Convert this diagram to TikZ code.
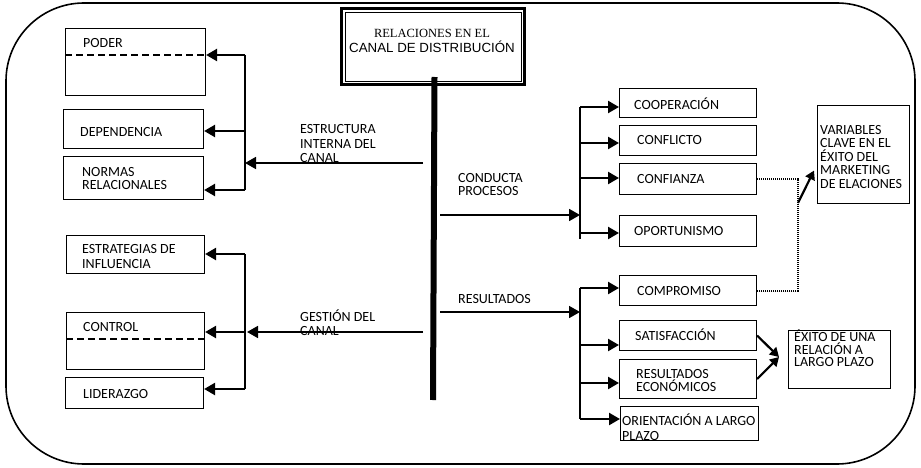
\documentclass[tikz,border=0pt]{standalone}
\usepackage{fontspec}
\setmainfont{Carlito}
\newfontfamily\timesf{Liberation Serif}
\newfontfamily\arialf{Liberation Sans}
\usetikzlibrary{arrows.meta,calc}
\tikzset{
  box/.style={draw, line width=1.1pt, inner sep=0pt, anchor=north west},
  txt/.style={inner sep=0pt, align=left, anchor=west, font=\fontsize{14}{13.5}\selectfont},
  br/.style={line width=2.4pt, -{Triangle[length=11pt,width=12pt]}},
  mainarr/.style={line width=1.8pt, -{Triangle[length=11pt,width=12pt]}},
  vline/.style={line width=1.6pt},
  diag/.style={line width=2.2pt, -{Triangle[length=9pt,width=10pt]}},
  dashline/.style={line width=1.8pt, dash pattern=on 7pt off 4pt},
  dotline/.style={line width=2pt, dash pattern=on 1pt off 1pt},
}
\begin{document}
\begin{tikzpicture}[x=1pt,y=-1pt]
\useasboundingbox (0,0) rectangle (921,468);
% outer frame
\draw[line width=1.6pt, rounded corners=78pt] (6,3) rectangle (915,464);

% title
\node[box, line width=3pt, minimum width=183pt, minimum height=76pt] (title) at (340,7) {};
\draw[line width=0.8pt] ($(title.south west)+(5,-5)$) rectangle ($(title.north east)+(-5,5)$);
\node[inner sep=0pt, align=center, font=\fontsize{13}{15}\selectfont] (titletext) at (432,40.5)
  {{\timesf\fontsize{12.5}{15}\selectfont RELACIONES EN EL}\\{\arialf\fontsize{13.3}{15}\selectfont CANAL DE DISTRIBUCIÓN}};
\coordinate (barend) at (433,400);
\draw[line width=6pt] ($(title.south)+(1.5,-9)$) -- (barend);

% left boxes
\node[box, minimum width=140pt, minimum height=67pt] (poder) at (65,28) {};
\node[box, minimum width=140pt, minimum height=39pt] (dep) at (63,109) {};
\node[box, minimum width=140pt, minimum height=43pt] (normas) at (63,156) {};
\node[box, minimum width=138pt, minimum height=38pt] (estr) at (66,235) {};
\node[box, minimum width=138pt, minimum height=57pt] (control) at (66,312) {};
\node[box, minimum width=138pt, minimum height=31pt] (lider) at (65,377) {};
\draw[dashline] (65,55) -- (205,55);
\draw[dashline] (66,339) -- (204,339);

\node[txt] (tpoder) at (83,43) {PODER};
\node[txt] (tdep) at (80,132) {DEPENDENCIA};
\node[txt, font=\fontsize{14}{12.8}\selectfont] (tnormas) at (82,178.5) {NORMAS\\RELACIONALES};
\node[txt, font=\fontsize{14}{14.5}\selectfont] (testr) at (82,256.5) {ESTRATEGIAS DE\\INFLUENCIA};
\node[txt] (tcontrol) at (83,327) {CONTROL};
\node[txt] (tlider) at (83,394) {LIDERAZGO};

% left upper connectors
\coordinate (la1) at (245,55);
\coordinate (la2) at (245,131);
\coordinate (la3) at (245,190);
\coordinate (lj1) at (245,163);
\coordinate (ls1) at (423,163);
\draw[vline] (la1) -- (la3);
\draw[br] (la1) -- (la1 -| poder.east);
\draw[br] (la2) -- (la2 -| dep.east);
\draw[br] (la3) -- (la3 -| normas.east);
\draw[mainarr] (ls1) -- (lj1);
\node[txt, font=\fontsize{14}{14.5}\selectfont] (testruct) at (300,144) {ESTRUCTURA\\INTERNA DEL\\CANAL};

% left lower connectors
\coordinate (lb1) at (245,254);
\coordinate (lb2) at (245,332);
\coordinate (lb3) at (245,389);
\coordinate (ls2) at (423,332);
\draw[vline] (lb1) -- (lb3);
\draw[br] (lb1) -- (lb1 -| estr.east);
\draw[br] (lb2) -- (lb2 -| control.east);
\draw[br] (lb3) -- (lb3 -| lider.east);
\draw[mainarr] (ls2) -- ([xshift=2pt]lb2);
\node[txt] (tgest) at (300,322.5) {GESTIÓN DEL\\CANAL};

% right boxes
\node[box, minimum width=137pt, minimum height=29pt] (coop) at (619,88) {};
\node[box, minimum width=137pt, minimum height=30pt] (confl) at (619,125) {};
\node[box, minimum width=137pt, minimum height=31pt] (confi) at (619,163) {};
\node[box, minimum width=137pt, minimum height=31pt] (oport) at (619,215) {};
\node[box, minimum width=137pt, minimum height=30pt] (compr) at (619,275) {};
\node[box, minimum width=137pt, minimum height=30pt] (satis) at (619,320) {};
\node[box, minimum width=137pt, minimum height=39pt] (reseco) at (619,359) {};
\node[box, minimum width=138pt, minimum height=34pt] (orient) at (620,406) {};
\node[box, minimum width=92pt, minimum height=98pt] (varb) at (817,105) {};
\node[box, minimum width=102pt, minimum height=58pt] (exito) at (788,330) {};

\node[txt] (tcoop) at (634,104) {COOPERACIÓN};
\node[txt] (tconfl) at (637,140) {CONFLICTO};
\node[txt] (tconfi) at (637,179) {CONFIANZA};
\node[txt] (toport) at (634,231) {OPORTUNISMO};
\node[txt] (tcompr) at (637,291) {COMPROMISO};
\node[txt] (tsatis) at (635,335) {SATISFACCIÓN};
\node[txt, font=\fontsize{14}{13}\selectfont] (treseco) at (636,380.5) {RESULTADOS\\ECONÓMICOS};
\node[txt, font=\fontsize{14}{14.5}\selectfont] (torient) at (622,427) {ORIENTACIÓN A LARGO\\PLAZO};
\node[txt] (tvarb) at (820,157) {VARIABLES\\CLAVE EN EL\\ÉXITO DEL\\MARKETING\\DE ELACIONES};
\node[txt, font=\fontsize{14}{12.5}\selectfont] (texito) at (794,348.5) {ÉXITO DE UNA\\RELACIÓN A\\LARGO PLAZO};

% right upper connectors
\coordinate (ra1) at (580,107);
\coordinate (ra2) at (580,143);
\coordinate (ra3) at (580,178);
\coordinate (ra4) at (580,233);
\coordinate (rj1) at (580,215);
\coordinate (rs1) at (440,215);
\draw[vline] (ra1) -- ([yshift=-6pt]ra4);
\draw[br] (ra1) -- (ra1 -| coop.west);
\draw[br] (ra2) -- (ra2 -| confl.west);
\draw[br] (ra3) -- (ra3 -| confi.west);
\draw[br] (ra4) -- (ra4 -| oport.west);
\draw[mainarr] (rs1) -- (rj1);
\node[txt, font=\fontsize{14}{13}\selectfont] (tcond) at (458,185) {CONDUCTA\\PROCESOS};

% right lower connectors
\coordinate (rb1) at (580,288);
\coordinate (rb2) at (580,345);
\coordinate (rb3) at (580,383);
\coordinate (rb4) at (580,419);
\coordinate (rj2) at (580,312);
\coordinate (rs2) at (440,312);
\draw[vline] (rb1) -- (rb4);
\draw[br] (rb1) -- (rb1 -| compr.west);
\draw[br] (rb2) -- (rb2 -| satis.west);
\draw[br] (rb3) -- (rb3 -| reseco.west);
\draw[br] (rb4) -- (rb4 -| orient.west);
\draw[mainarr] (rs2) -- (rj2);
\node[txt] (tres) at (458,299) {RESULTADOS};

% dotted link and arrow to VARIABLES
\coordinate (dv) at (798,0);
\coordinate (dstart) at (798,203);
\draw[dotline] (confi.east) -- (confi.east -| dv) -- (compr.east -| dv) -- (compr.east);
\draw[diag] (dstart) -- ([xshift=-3pt,yshift=-16pt]varb.west);

% arrows to EXITO
\coordinate (ex) at (779,357);
\draw[diag] (satis.east) -- (ex);
\draw[diag] (reseco.east) -- (ex);
\end{tikzpicture}
\end{document}
